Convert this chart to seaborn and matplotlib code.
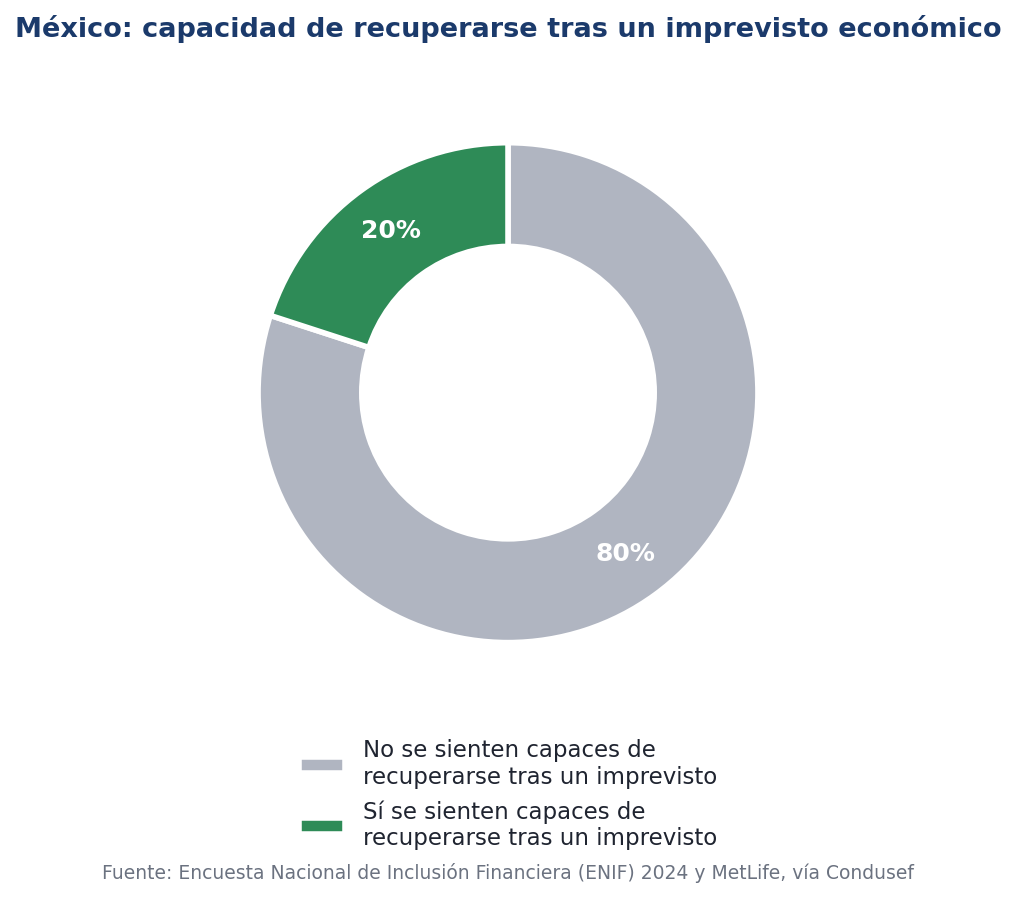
import matplotlib
matplotlib.use("Agg")
import matplotlib.pyplot as plt
import seaborn as sns

# data
categorias = ["No se sienten capaces de\nrecuperarse tras un imprevisto",
              "Sí se sienten capaces de\nrecuperarse tras un imprevisto"]
porcentajes = [80, 20]
colores = ["#b0b5c1", "#2e8b57"]

titulo = "México: capacidad de recuperarse tras un imprevisto económico"
fuente = "Fuente: Encuesta Nacional de Inclusión Financiera (ENIF) 2024 y MetLife, vía Condusef"

sns.set_theme(style="white")
plt.rcParams['font.family'] = ['DejaVu Sans']

fig = plt.figure(figsize=(10.16, 8.98), dpi=100)
# donut centrado en (508, 392) px, radio ~249 px
ax = fig.add_axes([0.1925, 0.2135, 0.615, 0.6985])

wedges, textos, autotextos = ax.pie(
    porcentajes, colors=colores, startangle=90, counterclock=False,
    autopct="%1.0f%%", pctdistance=0.8,
    wedgeprops=dict(width=0.415, edgecolor="white", linewidth=4),
)
for t in autotextos:
    t.set_color("white")
    t.set_fontsize(18)
    t.set_fontweight("bold")
ax.set_aspect("equal")

fig.suptitle(titulo, x=0.5, y=0.983, fontsize=19.5, fontweight="bold", color="#1b3a6b")

fig.legend(wedges, categorias, loc="center", bbox_to_anchor=(0.5, 0.115),
           frameon=False, fontsize=16.5, labelcolor="#1f2430")

fig.text(0.5, 0.028, fuente, ha="center", va="center", fontsize=13.5, color="#6b7280")

fig.savefig("out.png", dpi=100)
